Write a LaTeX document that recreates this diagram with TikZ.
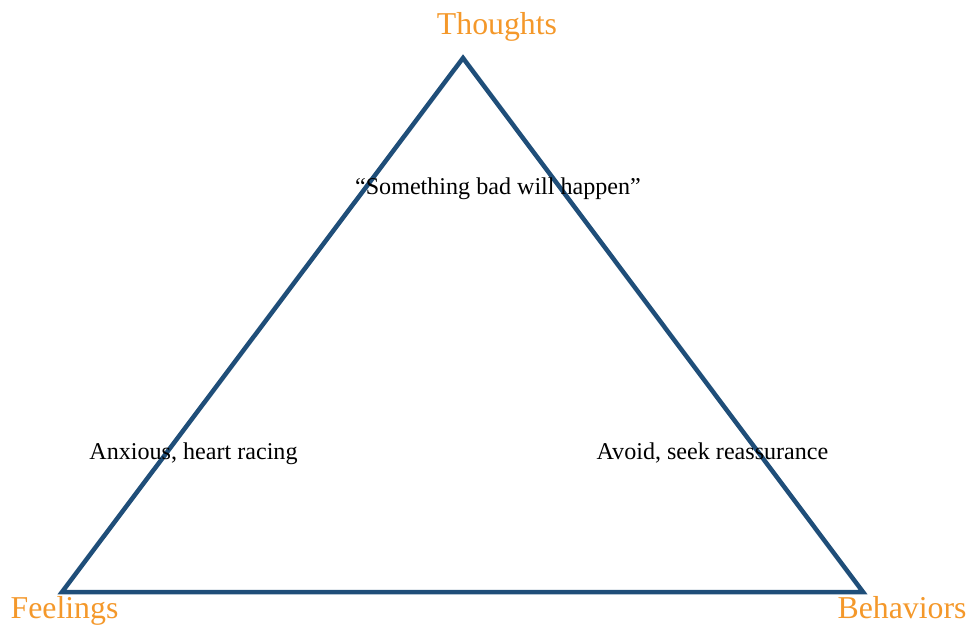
\documentclass[tikz,border=0pt]{standalone}
\usepackage{fontspec}
\setmainfont{Liberation Serif}
\definecolor{triblue}{HTML}{1F4E79}
\definecolor{lblorange}{HTML}{F4982A}
\begin{document}
\begin{tikzpicture}[x=1pt,y=-1pt,
  corner/.style={font=\fontsize{31.8}{36}\selectfont, text=lblorange, anchor=base, inner sep=0pt},
  body/.style={font=\fontsize{24.1}{28}\selectfont, text=black, anchor=base, inner sep=0pt},
  edge/.style={draw=triblue, line width=4.5pt, line join=miter}]
\useasboundingbox (0,0) rectangle (969,625);
\coordinate (T) at (463,58);
\coordinate (F) at (62,592);
\coordinate (B) at (863,592);
\draw[edge] (T) -- (F) -- (B) -- cycle;
\node[corner] (thoughts) at (497,34.5) {Thoughts};
\node[corner] (feelings) at (64.5,618) {Feelings};
\node[corner] (behaviors) at (902,618) {Behaviors};
\node[body] (tq) at (498,194.5) {``Something bad will happen''};
\node[body] (fq) at (193.5,459.5) {Anxious, heart racing};
\node[body] (bq) at (712.5,459.5) {Avoid, seek reassurance};
\end{tikzpicture}
\end{document}
